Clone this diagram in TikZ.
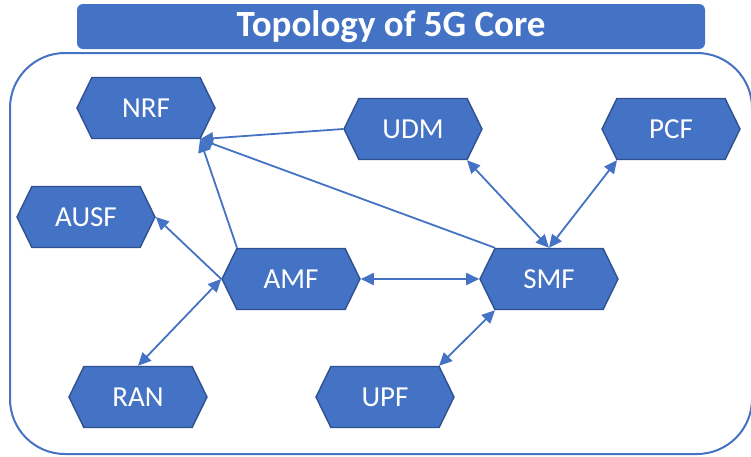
\documentclass[tikz,border=0pt]{standalone}
\usepackage{fontspec}
\setmainfont{Carlito}
\usetikzlibrary{shapes.symbols,arrows.meta,calc}
\definecolor{nfblue}{HTML}{4472C4}
\definecolor{nfedge}{HTML}{2F528F}

\begin{document}
\begin{tikzpicture}[x=1pt,y=-1pt,
  nf/.style={signal, signal to=west and east, signal pointer angle=128,
    minimum width=138pt, minimum height=61pt, inner sep=0pt,
    fill=nfblue, draw=nfedge, line width=1.4pt, text=white,
    font=\fontsize{29}{31}\selectfont},
  link/.style={draw=nfblue, line width=1.8pt, -{Triangle[length=13pt,width=12pt]}},
  both/.style={draw=nfblue, line width=1.8pt,
    {Triangle[length=13pt,width=12pt]}-{Triangle[length=13pt,width=12pt]}}
]
\useasboundingbox (0,0) rectangle (751,456);

% frame around the core network
\draw[nfblue, line width=2pt, rounded corners=55pt] (10,53) rectangle (752,454);

% heading bar
\node (title) [fill=nfblue, rounded corners=6pt, minimum width=628pt,
  minimum height=45pt, inner sep=0pt, text=white,
  font=\bfseries\fontsize{37}{39}\selectfont] at (391,26.5) {Topology of 5G Core};

% network functions
\node[nf] (nrf)  at (146,108) {NRF};
\node[nf] (udm)  at (413,129) {UDM};
\node[nf] (pcf)  at (671,129) {PCF};
\node[nf] (ausf) at (86,217)  {AUSF};
\node[nf] (amf)  at (291,279) {AMF};
\node[nf] (smf)  at (549,279) {SMF};
\node[nf] (ran)  at (138,397) {RAN};
\node[nf] (upf)  at (385,397) {UPF};

% hexagon corners used as connector ends
\coordinate (nrf-se) at ($(nrf.south)+(54,0)$);
\coordinate (udm-se) at ($(udm.south)+(54,0)$);
\coordinate (pcf-sw) at ($(pcf.south)+(-54,0)$);
\coordinate (amf-nw) at ($(amf.north)+(-54,0)$);
\coordinate (smf-nw) at ($(smf.north)+(-54,0)$);
\coordinate (smf-sw) at ($(smf.south)+(-54,0)$);
\coordinate (upf-ne) at ($(upf.north)+(54,0)$);

% connections
\draw[link] (udm.west) -- (nrf-se);
\draw[link] (amf-nw) -- (nrf-se);
\draw[link] (smf-nw) -- (nrf-se);
\draw[link] (amf.west) -- (ausf.east);
\draw[both] (ran.north) -- (amf.west);
\draw[both] (amf.east) -- (smf.west);
\draw[both] (udm-se) -- (smf.north);
\draw[both] (pcf-sw) -- (smf.north);
\draw[both] (upf-ne) -- (smf-sw);
\end{tikzpicture}
\end{document}
